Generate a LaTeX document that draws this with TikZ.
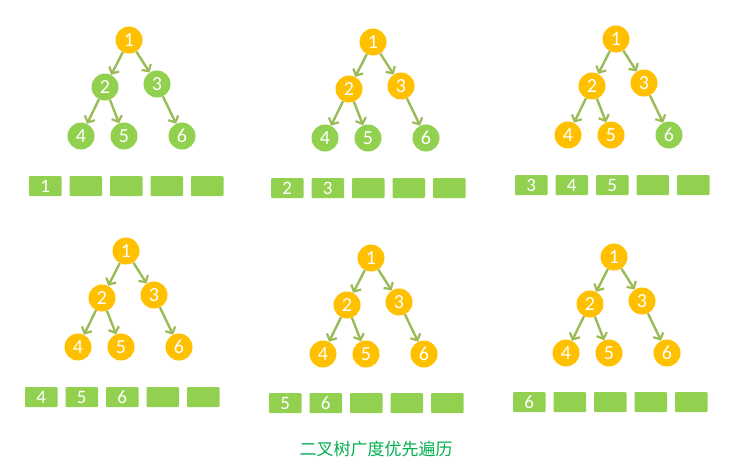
\documentclass[tikz,border=0pt]{standalone}
\usepackage{fontspec}
\setmainfont{Carlito}
\newfontfamily\cjk{Noto Sans CJK SC}
\usetikzlibrary{arrows.meta}
\definecolor{ngreen}{HTML}{92D050}
\definecolor{norange}{HTML}{FFC000}
\definecolor{egreen}{HTML}{9BBB59}
\definecolor{capgreen}{HTML}{00B050}
\tikzset{
  nd/.style={circle,minimum size=27pt,inner sep=0pt,text=white,font=\fontsize{20}{20}\selectfont},
  edge/.style={draw=egreen,line width=2.4pt,-{Straight Barb[length=5pt,width=11pt,line width=2.2pt]}},
  qbox/.style={fill=ngreen,rounded corners=1pt,minimum width=32.5pt,minimum height=20pt,inner sep=0pt,text=white,font=\fontsize{19}{19}\selectfont},
  captext/.style={text=capgreen,font=\cjk\fontsize{17}{17}\selectfont}
}
\newcommand\bfstree[9]{%
  \node[nd,fill=#4] (#1n1) at (#2,#3) {1};
  \node[nd,fill=#5] (#1n2) at (#2-24,#3+47) {2};
  \node[nd,fill=#6] (#1n3) at (#2+28,#3+44) {3};
  \node[nd,fill=#7] (#1n4) at (#2-48,#3+96) {4};
  \node[nd,fill=#8] (#1n5) at (#2-5,#3+96) {5};
  \node[nd,fill=#9] (#1n6) at (#2+53,#3+96) {6};
  \draw[edge] (#1n1) -- (#1n2);
  \draw[edge] (#1n1) -- (#1n3);
  \draw[edge] (#1n2) -- (#1n4);
  \draw[edge] (#1n2) -- (#1n5);
  \draw[edge] (#1n3) -- (#1n6);
}
\newcommand\bfsqueue[4]{%
  \foreach \t [count=\i] in {#4} {
    \node[qbox] (#1q\i) at ({#2+16.25+(\i-1)*40.5},{#3+10}) {\t};
  }
}
\begin{document}
\begin{tikzpicture}[x=1pt,y=-1pt]
\useasboundingbox (0,0) rectangle (748,475);
\bfstree{a}{129}{40}{norange}{ngreen}{ngreen}{ngreen}{ngreen}{ngreen}
\bfstree{b}{373}{42}{norange}{norange}{norange}{ngreen}{ngreen}{ngreen}
\bfstree{c}{616}{39}{norange}{norange}{norange}{norange}{norange}{ngreen}
\bfstree{d}{126}{251}{norange}{norange}{norange}{norange}{norange}{norange}
\bfstree{e}{371}{258}{norange}{norange}{norange}{norange}{norange}{norange}
\bfstree{f}{614}{257}{norange}{norange}{norange}{norange}{norange}{norange}
\bfsqueue{a}{29}{176}{1,{},{},{},{}}
\bfsqueue{b}{271}{178}{2,3,{},{},{}}
\bfsqueue{c}{515}{175}{3,4,5,{},{}}
\bfsqueue{d}{25}{387}{4,5,6,{},{}}
\bfsqueue{e}{269}{393}{5,6,{},{},{}}
\bfsqueue{f}{513}{392}{6,{},{},{},{}}
\node[captext] (caption) at (376,449) {二叉树广度优先遍历};
\end{tikzpicture}
\end{document}
